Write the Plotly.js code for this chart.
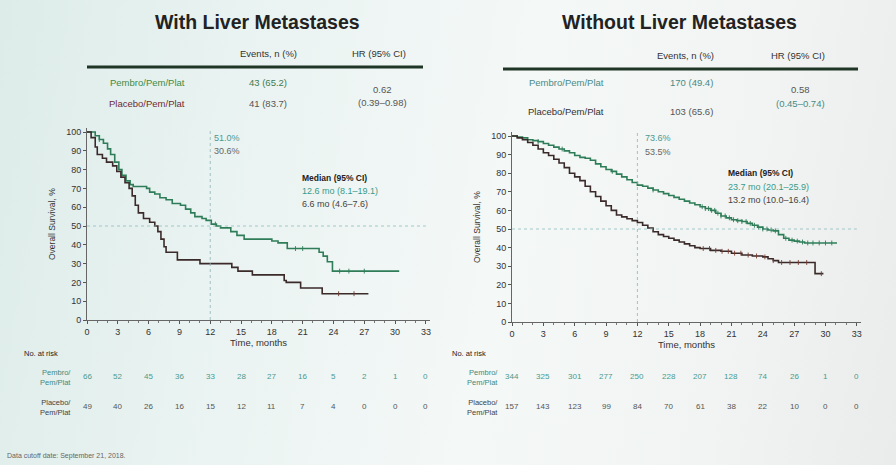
<!DOCTYPE html>
<html><head><meta charset="utf-8">
<script src="https://cdn.plot.ly/plotly-3.0.1.min.js"></script>
<style>
html,body{margin:0;padding:0;width:896px;height:465px;overflow:hidden;
background:linear-gradient(100deg,#ddece9 0%,#e9f3f1 25%,#f4f8f7 55%,#f1f4f2 80%,#e9ecea 100%);}
#chart{width:896px;height:465px;}
</style>
</head><body><div id="chart"></div>
<script>
// ---------- DATA ----------
const months = [0,3,6,9,12,15,18,21,24,27,30,33];
// With liver metastases
const liverPembroT = [0,0.8,1.2,1.6,2.0,2.3,2.7,3.1,3.4,3.8,4.2,4.5,5.8,6.1,6.6,7.1,7.7,8.3,9.1,9.6,10.1,10.5,11.2,11.6,12.1,12.6,13.0,14.0,14.6,15.3,18.0,18.6,19.5,22.6,23.0,23.4,23.9,30.4];
const liverPembroS = [100,98,96,94,91,88,84,80,77,74,72,71,70,68,67,65,64,62,61,59,57,55,54,53,51,50,49,47,45,43,42,41,38,36,34,31,26,26];
const liverPlaceboT = [0,0.4,0.8,1.0,1.5,1.9,2.5,2.9,3.3,3.7,4.1,4.4,4.7,5.0,5.5,6.1,6.6,6.9,7.2,7.5,7.7,8.8,11.0,14.1,14.7,16.1,19.2,19.4,20.8,22.9,27.4];
const liverPlaceboS = [100,97,92,88,86,84,82,79,76,73,70,66,61,57,54,52,50,47,43,39,36,32,30,28,26,24,21,20,17,14,14];
const liverPembroCensor = [1.2,12.5,20.3,21.0,24.6,25.5,27.0];
const liverPlaceboCensor = [24.5,26.0];
// Without liver metastases
const noLiverPembroT = [0,0.5,1,1.5,2,2.5,3,3.5,4,4.5,5,5.5,6,6.5,7,7.5,8,8.5,9,9.5,10,10.5,11,11.5,12,12.5,13,13.5,14,14.5,15,15.5,16,16.5,17,17.5,18,18.5,19,19.5,20,20.5,21,21.5,22,22.5,23,23.5,24,24.5,25,25.5,26,26.5,27,27.5,28,31.1];
const noLiverPembroS = [100,99.5,99,98,97.5,97,96,95,94,93,92,91,89.5,88.5,88,87,85,83.5,82,81,79.5,78,76.5,75,73.6,73,72,71,70,69,68,67,66,65,64,63,62,61,60,58.5,57,56,55,54.5,54,53,52,51,50,49.5,49,47,45,44,43.5,43,42.5,42.5];
const noLiverPlaceboT = [0,0.5,1,1.5,2,2.5,3,3.5,4,4.5,5,5.5,6,6.5,7,7.5,8,8.5,9,9.5,10,10.5,11,11.5,12,12.5,13,13.5,14,14.5,15,15.5,16,16.5,17,17.5,18,19,20,21,22,23,24,24.5,25,25.5,29,29.8];
const noLiverPlaceboS = [100,99,98,96.5,95,93,91,89.5,87.5,85.5,83,80,78,76,73,70,67.5,65,62.5,60,57.5,56.5,55.5,54.5,53.5,52,50.5,48.5,47,46,45,44,43,42,41,40,39.5,38.5,38,37,36,35.5,35,34,33,32,26,26];
const noLiverPembroCensor = [2.5,4.8,9.6,13.5,18.2,18.5,18.8,19.1,19.4,19.7,20.0,20.4,20.8,21.2,21.6,22.0,22.4,22.8,23.2,23.6,24.0,24.4,24.8,25.2,26.2,26.8,27.3,27.8,28.3,28.8,29.4,30.0,30.6];
const noLiverPlaceboCensor = [18.3,18.9,19.5,20.1,20.7,21.3,21.9,22.6,23.4,24.2,25.0,25.8,26.6,27.4,28.2,29.6];
// At-risk tables
const riskLiverPembro = [66,52,45,36,33,28,27,16,5,2,1,0];
const riskLiverPlacebo = [49,40,26,16,15,12,11,7,4,0,0,0];
const riskNoLiverPembro = [344,325,301,277,250,228,207,128,74,26,1,0];
const riskNoLiverPlacebo = [157,143,123,99,84,70,61,38,22,10,0,0];
// Summary tables
const liverTable = {pembroEvents:'43 (65.2)', placeboEvents:'41 (83.7)', hr:'0.62', ci:'(0.39–0.98)',
  lm12:['51.0%','30.6%'], median:['12.6 mo (8.1–19.1)','6.6 mo (4.6–7.6)']};
const noLiverTable = {pembroEvents:'170 (49.4)', placeboEvents:'103 (65.6)', hr:'0.58', ci:'(0.45–0.74)',
  lm12:['73.6%','53.5%'], median:['23.7 mo (20.1–25.9)','13.2 mo (10.0–16.4)']};

// ---------- STYLE ----------
const W=896,H=465;
const FONT='Liberation Sans, Arial, sans-serif';
const GREEN='#2f7d58', DARK='#3b2a2a';
const px=v=>v/W, py=v=>1-v/H;

function stepAt(T,S,t){let v=S[0];for(let i=0;i<T.length;i++){if(T[i]<=t)v=S[i];}return v;}

function curve(T,S,color,xa,ya){return {x:T,y:S,type:'scatter',mode:'lines',line:{shape:'hv',color:color,width:1.6},xaxis:xa,yaxis:ya,hoverinfo:'skip',showlegend:false};}
function censor(C,T,S,color,xa,ya){return {x:C,y:C.map(t=>stepAt(T,S,t)),type:'scatter',mode:'markers',marker:{symbol:'line-ns-open',size:3.5,color:color,line:{width:0.9,color:color}},xaxis:xa,yaxis:ya,hoverinfo:'skip',showlegend:false};}

const data=[
  curve(liverPembroT,liverPembroS,GREEN,'x','y'),
  curve(liverPlaceboT,liverPlaceboS,DARK,'x','y'),
  censor(liverPembroCensor,liverPembroT,liverPembroS,GREEN,'x','y'),
  censor(liverPlaceboCensor,liverPlaceboT,liverPlaceboS,'#6b3a30','x','y'),
  curve(noLiverPembroT,noLiverPembroS,GREEN,'x2','y2'),
  curve(noLiverPlaceboT,noLiverPlaceboS,DARK,'x2','y2'),
  censor(noLiverPembroCensor,noLiverPembroT,noLiverPembroS,GREEN,'x2','y2'),
  censor(noLiverPlaceboCensor,noLiverPlaceboT,noLiverPlaceboS,'#7a3a30','x2','y2')
];

function xaxis(dom,anchor){return {domain:dom,range:[0,33.4],anchor:anchor,tickvals:months,ticks:'outside',ticklen:3,tickwidth:1,tickcolor:'#555',
  showline:true,linecolor:'#666',linewidth:1,showgrid:false,zeroline:false,tickfont:{family:FONT,size:9,color:'#333'},
  minor:{dtick:1,ticks:'outside',ticklen:2,tickcolor:'#777',showgrid:false},
  title:{text:'Time, months',font:{family:FONT,size:9.5,color:'#333'},standoff:3}};}
function yaxis(dom,anchor){return {domain:dom,range:[0,102],anchor:anchor,tickvals:[0,10,20,30,40,50,60,70,80,90,100],ticks:'outside',ticklen:3,tickcolor:'#555',
  showline:true,linecolor:'#666',linewidth:1,showgrid:false,zeroline:false,tickfont:{family:FONT,size:9,color:'#333'},
  title:{text:'Overall Survival, %',font:{family:FONT,size:8.5,color:'#333'},standoff:9}};}

const ann=[];
function t(x,y,text,opt){ann.push(Object.assign({x:px(x),y:py(y),xref:'paper',yref:'paper',text:text,showarrow:false,xanchor:'center',yanchor:'middle',
  font:{family:FONT,size:9.5,color:'#444'}},opt||{}));}
// titles
t(257,22,'<b>With Liver Metastases</b>',{font:{family:FONT,size:19.5,color:'#222'}});
t(679,22,'<b>Without Liver Metastases</b>',{font:{family:FONT,size:19.5,color:'#222'}});
// left summary table
t(268,53,'Events, n (%)',{font:{family:FONT,size:9.5,color:'#333'}});
t(379,53,'HR (95% CI)',{font:{family:FONT,size:9.5,color:'#333'}});
t(147,83,'Pembro/Pem/Plat',{font:{family:FONT,size:9.5,color:'#3f8a45'}});
t(147,104,'Placebo/Pem/Plat',{font:{family:FONT,size:9.5,color:'#6e2a35'}});
t(268,83,liverTable.pembroEvents,{font:{family:FONT,size:9.5,color:'#3f7a50'}});
t(268,104,liverTable.placeboEvents,{font:{family:FONT,size:9.5,color:'#555'}});
t(382,89,liverTable.hr,{font:{family:FONT,size:9.5,color:'#555'}});
t(382,103,liverTable.ci,{font:{family:FONT,size:9.5,color:'#555'}});
// right summary table
t(685,55,'Events, n (%)',{font:{family:FONT,size:9.5,color:'#333'}});
t(798,55,'HR (95% CI)',{font:{family:FONT,size:9.5,color:'#333'}});
t(566,83,'Pembro/Pem/Plat',{font:{family:FONT,size:9.5,color:'#4a8a86'}});
t(566,111,'Placebo/Pem/Plat',{font:{family:FONT,size:9.5,color:'#333'}});
t(691,83,noLiverTable.pembroEvents,{font:{family:FONT,size:9.5,color:'#4a8a86'}});
t(691,111,noLiverTable.placeboEvents,{font:{family:FONT,size:9.5,color:'#555'}});
t(800,89,noLiverTable.hr,{font:{family:FONT,size:9.5,color:'#555'}});
t(800,104,noLiverTable.ci,{font:{family:FONT,size:9.5,color:'#4a8a86'}});
// landmark and median annotations
t(212,138,liverTable.lm12[0],{xanchor:'left',font:{family:FONT,size:9,color:'#4a9a96'}});
t(212,151,liverTable.lm12[1],{xanchor:'left',font:{family:FONT,size:9,color:'#666'}});
t(300,178,'<b>Median (95% CI)</b>',{xanchor:'left',font:{family:FONT,size:8.5,color:'#222'}});
t(300,191,liverTable.median[0],{xanchor:'left',font:{family:FONT,size:9,color:'#3a9a8a'}});
t(300,204,liverTable.median[1],{xanchor:'left',font:{family:FONT,size:9,color:'#444'}});
t(643,138,noLiverTable.lm12[0],{xanchor:'left',font:{family:FONT,size:9,color:'#4a9a96'}});
t(643,152,noLiverTable.lm12[1],{xanchor:'left',font:{family:FONT,size:9,color:'#666'}});
t(726,173,'<b>Median (95% CI)</b>',{xanchor:'left',font:{family:FONT,size:8.5,color:'#222'}});
t(726,187,noLiverTable.median[0],{xanchor:'left',font:{family:FONT,size:9,color:'#3a9a8a'}});
t(726,200,noLiverTable.median[1],{xanchor:'left',font:{family:FONT,size:9,color:'#444'}});
// at-risk labels
t(22,353,'No. at risk',{xanchor:'left',font:{family:FONT,size:7.5,color:'#222'}});
t(450,353,'No. at risk',{xanchor:'left',font:{family:FONT,size:7.5,color:'#222'}});
t(73,377,'Pembro/<br>Pem/Plat',{xanchor:'right',align:'right',font:{family:FONT,size:7.5,color:'#3f8a7e'}});
t(73,407,'Placebo/<br>Pem/Plat',{xanchor:'right',align:'right',font:{family:FONT,size:7.5,color:'#444'}});
t(500,377,'Pembro/<br>Pem/Plat',{xanchor:'right',align:'right',font:{family:FONT,size:7.5,color:'#3f8a7e'}});
t(500,407,'Placebo/<br>Pem/Plat',{xanchor:'right',align:'right',font:{family:FONT,size:7.5,color:'#444'}});
// at-risk numbers via axis scales
function riskRow(vals,xref,yPix,color){vals.forEach((v,i)=>ann.push({x:months[i],y:py(yPix),xref:xref,yref:'paper',text:String(v),showarrow:false,
  xanchor:'center',yanchor:'middle',font:{family:FONT,size:8,color:color}}));}
riskRow(riskLiverPembro,'x',376,'#4a9a90');
riskRow(riskLiverPlacebo,'x',406,'#555');
riskRow(riskNoLiverPembro,'x2',376,'#4a9a90');
riskRow(riskNoLiverPlacebo,'x2',406,'#555');
// footer
t(5,456,'Data cutoff date: September 21, 2018.',{xanchor:'left',font:{family:FONT,size:7,color:'#666'}});

const shapes=[
  {type:'line',xref:'paper',yref:'paper',x0:px(87),x1:px(423),y0:py(67),y1:py(67),line:{color:'#1f3526',width:3}},
  {type:'line',xref:'paper',yref:'paper',x0:px(503),x1:px(858),y0:py(69),y1:py(69),line:{color:'#1f3526',width:3}},
  {type:'line',xref:'x',yref:'y',x0:0,x1:33,y0:50,y1:50,line:{color:'#8fbcbc',width:0.8,dash:'dot'}},
  {type:'line',xref:'x',yref:'y',x0:12,x1:12,y0:0,y1:102,line:{color:'#8fb4b4',width:0.8,dash:'dot'}},
  {type:'line',xref:'x2',yref:'y2',x0:0,x1:33,y0:50,y1:50,line:{color:'#8fbcbc',width:0.8,dash:'dot'}},
  {type:'line',xref:'x2',yref:'y2',x0:12,x1:12,y0:0,y1:102,line:{color:'#8fb4b4',width:0.8,dash:'dot'}}
];

const layout={width:W,height:H,margin:{l:0,r:0,t:0,b:0},paper_bgcolor:'rgba(0,0,0,0)',plot_bgcolor:'rgba(0,0,0,0)',
  xaxis:xaxis([px(87),px(87+33.4*10.27)],'y'),
  yaxis:yaxis([1-320/H,1-(320-102*1.88)/H],'x'),
  xaxis2:xaxis([px(512),px(512+33.4*10.45)],'y2'),
  yaxis2:yaxis([1-322/H,1-(322-102*1.86)/H],'x2'),
  annotations:ann,shapes:shapes,showlegend:false};

Plotly.newPlot('chart',data,layout,{staticPlot:true,displayModeBar:false});
</script></body></html>
